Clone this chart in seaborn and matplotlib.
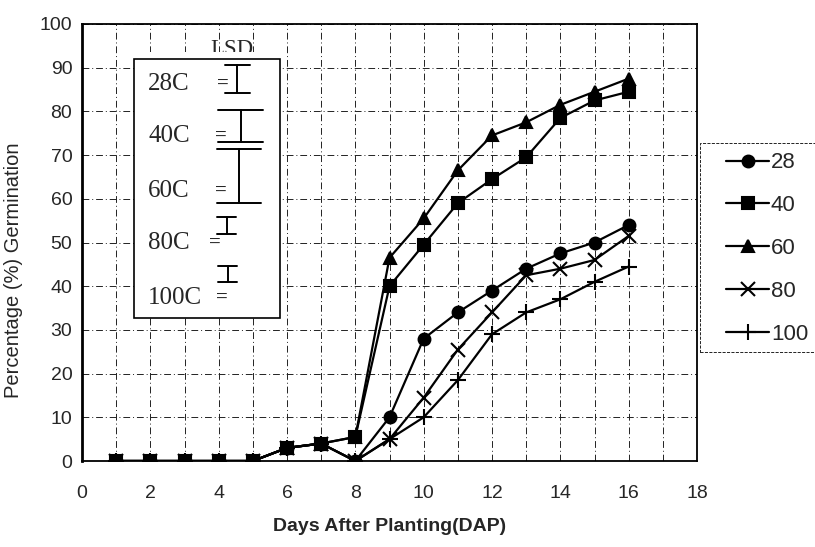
import matplotlib
matplotlib.use("Agg")
import matplotlib.pyplot as plt
from matplotlib.patches import Rectangle
import seaborn as sns
import pandas as pd

# germination (%), days 1..16
days = list(range(1, 17))
temps = ["28", "40", "60", "80", "100"]
germ_28 = [0, 0, 0, 0, 0, 3, 4, 0, 10, 28, 34, 39, 44, 47.5, 50, 54]
germ_40 = [0, 0, 0, 0, 0, 3, 4, 5.5, 40, 49.5, 59, 64.5, 69.5, 78.5, 82.5, 84.5]
germ_60 = [0, 0, 0, 0, 0, 3, 4, 5.5, 46.5, 55.5, 66.5, 74.5, 77.5, 81.5, 84.5, 87.5]
germ_80 = [0, 0, 0, 0, 0, 3, 4, 0, 5, 14.5, 25.5, 34, 42.5, 44, 46, 51.5]
germ_100 = [0, 0, 0, 0, 0, 3, 4, 0, 5, 10, 18.5, 29, 34, 37, 41, 44.5]

# LSD bars in the inset box
lsd_labels = ["28C", "40C", "60C", "80C", "100C"]
lsd_top = [90.7, 80.4, 71.5, 55.8, 44.6]
lsd_size = [6.6, 7.3, 12.5, 3.9, 3.6]

series = [germ_28, germ_40, germ_60, germ_80, germ_100]
df = pd.DataFrame(
    [(d, t, v) for t, vals in zip(temps, series) for d, v in zip(days, vals)],
    columns=["day", "temp", "germ"],
)

sns.set_style("white")
plt.rcParams["font.family"] = ["Liberation Sans", "DejaVu Sans"]

fig = plt.figure(figsize=(8.15, 5.47), dpi=100)
ax = fig.add_axes([82 / 815, 86 / 547, 615 / 815, 437 / 547])

markers = {"28": "o", "40": "s", "60": "^", "80": "x", "100": "+"}
msizes = {"28": 8.5, "40": 8, "60": 8.5, "80": 9.5, "100": 11}
for t in temps:
    sns.lineplot(
        data=df[df["temp"] == t], x="day", y="germ", color="black",
        marker=markers[t], markersize=msizes[t], markeredgecolor="black",
        markeredgewidth=1.5, linewidth=1.6, ax=ax, label=t, zorder=3,
    )
ax.get_legend().remove()

ax.set_xlim(0, 18)
ax.set_ylim(0, 100)
ax.set_xticks(range(0, 19, 2))
ax.set_xticks(range(0, 19), minor=True)
ax.set_yticks(range(0, 101, 10))
ax.grid(True, which="both", color="#222222", linestyle=(0, (7, 3, 1, 3)), linewidth=0.7)
ax.tick_params(axis="both", which="major", labelsize=14, direction="in", length=3, color="black")
ax.tick_params(axis="x", which="minor", direction="in", length=3, color="black")
ax.tick_params(axis="x", pad=17)
ax.tick_params(axis="y", pad=7)
for s in ax.spines.values():
    s.set_color("black")
    s.set_linewidth(1.3)
ax.spines["left"].set_linewidth(2)

ax.set_xlabel("Days After Planting(DAP)", fontsize=14, fontweight="bold", labelpad=12)
ax.set_ylabel("Percentage (%) Germination", fontsize=14.5)
ax.yaxis.set_label_coords(-0.096, 0.437)

# legend to the right, dashed frame drawn separately
fig.patches.append(Rectangle((700 / 815, 1 - 352 / 547), 130 / 815, 209 / 547,
                             transform=fig.transFigure, facecolor="none",
                             edgecolor="black", linestyle="--", linewidth=0.6))
handles = ax.lines[:5]
leg = fig.legend(
    handles, temps, loc="upper left", bbox_to_anchor=(722 / 815, 1 - 148 / 547),
    frameon=False, fontsize=16, handlelength=1.9, borderpad=0.2, borderaxespad=0,
    labelspacing=0.98, handletextpad=0.1,
)

# LSD inset box
ax.add_patch(Rectangle((1.52, 32.7), 4.27, 60.9, facecolor="white", edgecolor="none", zorder=4))
ax.add_patch(Rectangle((1.52, 32.7), 4.27, 59.3, facecolor="none", edgecolor="black",
                       linewidth=1.2, zorder=6))
ax.text(4.4, 92.9, "LSD", family="Liberation Serif", fontsize=16.5, ha="center",
        va="baseline", zorder=3.5)

lab_y = [86.3, 74.3, 61.7, 49.9, 37.4]
eq_x = [3.95, 3.9, 3.9, 3.72, 3.92]
bar_x = [4.55, 4.64, 4.6, 4.23, 4.26]
cap_w = [0.73, 1.3, 1.3, 0.55, 0.55]
for lab, y, ex, bx, cw, top, size in zip(lsd_labels, lab_y, eq_x, bar_x, cap_w, lsd_top, lsd_size):
    ax.text(1.94, y, lab, family="Liberation Serif", fontsize=18, va="center", zorder=5)
    ax.text(ex, y, "=", family="Liberation Serif", fontsize=15, fontweight="bold",
            va="center", zorder=5)
    ax.plot([bx, bx], [top, top - size], color="black", lw=1.4, zorder=5)
    ax.plot([bx - cw / 2, bx + cw / 2], [top, top], color="black", lw=1.4, zorder=5)
    ax.plot([bx - cw / 2, bx + cw / 2], [top - size, top - size], color="black", lw=1.4, zorder=5)

fig.savefig("out.png", dpi=100)
